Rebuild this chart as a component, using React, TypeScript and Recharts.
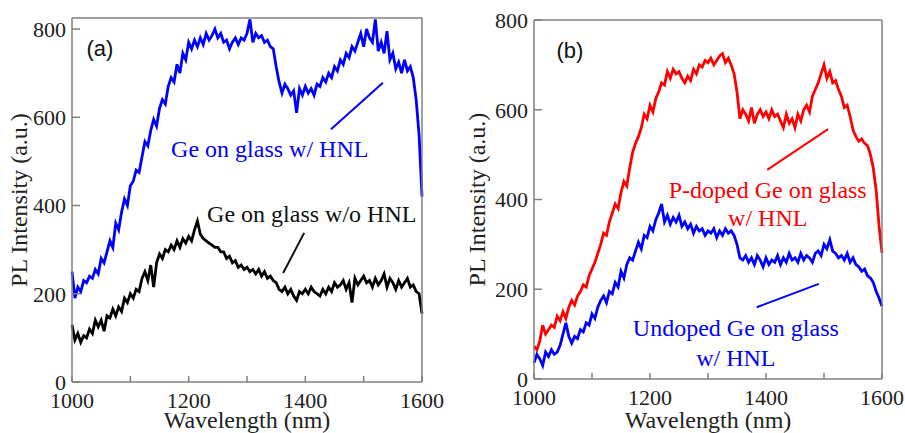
import React from "react";
import {
  LineChart,
  Line,
  XAxis,
  YAxis,
  ReferenceLine,
  ReferenceDot,
} from "recharts";

// sampling grid (nm)
const WAVELENGTH = [
  1000, 1005, 1010, 1015, 1020, 1025, 1030, 1035, 1040, 1045,
  1050, 1055, 1060, 1065, 1070, 1075, 1080, 1085, 1090, 1095,
  1100, 1105, 1110, 1115, 1120, 1125, 1130, 1135, 1140, 1145,
  1150, 1155, 1160, 1165, 1170, 1175, 1180, 1185, 1190, 1195,
  1200, 1205, 1210, 1215, 1220, 1225, 1230, 1235, 1240, 1245,
  1250, 1255, 1260, 1265, 1270, 1275, 1280, 1285, 1290, 1295,
  1300, 1305, 1310, 1315, 1320, 1325, 1330, 1335, 1340, 1345,
  1350, 1355, 1360, 1365, 1370, 1375, 1380, 1385, 1390, 1395,
  1400, 1405, 1410, 1415, 1420, 1425, 1430, 1435, 1440, 1445,
  1450, 1455, 1460, 1465, 1470, 1475, 1480, 1485, 1490, 1495,
  1500, 1505, 1510, 1515, 1520, 1525, 1530, 1535, 1540, 1545,
  1550, 1555, 1560, 1565, 1570, 1575, 1580, 1585, 1590, 1595,
  1600,
];

// (a) Ge on glass w/ HNL
const A_WITH_HNL = [
  250, 190, 215, 205, 230, 225, 240, 235, 255, 245,
  280, 270, 295, 320, 305, 360, 345, 385, 415, 400,
  445, 455, 480, 475, 510, 545, 535, 570, 595, 580,
  620, 640, 630, 670, 690, 680, 720, 700, 745, 730,
  770, 755, 775, 760, 780, 765, 790, 775, 785, 800,
  780, 790, 770, 775, 755, 770, 780, 765, 780, 775,
  790, 822, 770, 790, 780, 785, 770, 775, 760, 755,
  715, 680, 655, 675, 665, 650, 660, 610, 665, 650,
  670, 655, 665, 650, 675, 670, 690, 680, 700, 690,
  715, 705, 730, 720, 745, 735, 760, 750, 770, 790,
  760, 800, 780, 770, 822, 750, 770, 745, 795, 730,
  745, 710, 725, 700, 730, 705, 715, 690, 640, 560,
  420,
];

// (a) Ge on glass w/o HNL
const A_WITHOUT_HNL = [
  130, 95, 110, 90, 105, 100, 120, 110, 140, 125,
  140, 115, 150, 145, 165, 150, 170, 160, 190, 180,
  200, 190, 210, 205, 235, 250, 230, 265, 215, 270,
  290, 280, 300, 295, 310, 300, 320, 305, 325, 315,
  330, 320, 345, 365, 335, 325, 320, 315, 310, 305,
  305, 295, 295, 280, 285, 270, 275, 260, 265, 255,
  260, 250, 255, 245, 255, 240, 250, 235, 240, 230,
  225, 210, 205, 215, 200, 210, 195, 185, 205, 200,
  210, 200, 215, 205, 200, 195, 210, 200, 215, 205,
  225, 215, 220, 230, 210, 225, 180, 235, 220, 230,
  240, 225, 230, 215, 235, 220, 230, 245, 215, 235,
  225, 210, 230, 215, 225, 235, 215, 220, 205, 200,
  155,
];

// (b) P-doped Ge on glass w/ HNL
const B_P_DOPED = [
  73, 65, 85, 120, 100, 110, 120, 115, 140, 130,
  150, 135, 160, 175, 165, 185, 195, 210, 205, 230,
  245, 260, 280, 300, 325, 320, 350, 370, 390, 380,
  415, 440, 430, 470, 505, 525, 540, 560, 590, 580,
  610, 595, 625, 640, 660, 655, 685, 670, 690, 680,
  685, 670, 660, 675, 665, 690, 680, 700, 695, 710,
  705, 715, 700, 710, 720, 725, 705, 715, 700, 680,
  640, 580, 600, 590, 575, 605, 570, 590, 600, 585,
  595, 580, 600, 585, 590, 575, 560, 590, 570, 580,
  560, 590, 575, 600, 610, 595, 630, 645, 660, 680,
  700, 670, 685, 660, 665, 645, 630, 605, 610, 585,
  555, 540, 530, 535, 525, 520, 500, 470, 420, 340,
  281,
];

// (b) Undoped Ge on glass w/ HNL
const B_UNDOPED = [
  36, 55, 45, 30, 60, 50, 65, 55, 60, 75,
  100, 125, 95, 80, 95, 90, 110, 105, 125, 120,
  145, 135, 160, 175, 185, 170, 195, 190, 215, 205,
  240, 225, 255, 270, 265, 285, 305, 290, 320, 315,
  340, 330, 355, 370, 390, 350, 365, 345, 360, 350,
  365, 340, 350, 335, 345, 325, 340, 330, 335, 320,
  330, 325, 335, 315, 330, 320, 335, 325, 330, 320,
  300, 270, 265, 275, 260, 270, 255, 275, 265, 250,
  270, 255, 265, 260, 275, 255, 270, 260, 280, 265,
  270, 260, 280, 265, 275, 270, 260, 280, 285, 275,
  300, 290, 310, 285, 280, 270, 275, 265, 280, 260,
  270, 255, 250, 240, 245, 230, 225, 215, 195, 180,
  162,
];

const X_TICKS = [1000, 1100, 1200, 1300, 1400, 1500, 1600];
const Y_TICKS = [0, 200, 400, 600, 800];

const SERIF = "Liberation Serif";
const SANS = "Liberation Sans";
const FRAME = "#808080";
const BLUE = "#0000ff";
const RED = "#ff0000";

const dataA = WAVELENGTH.map((wl, i) => ({ wl, withHnl: A_WITH_HNL[i], withoutHnl: A_WITHOUT_HNL[i] }));
const dataB = WAVELENGTH.map((wl, i) => ({ wl, pDoped: B_P_DOPED[i], undoped: B_UNDOPED[i] }));

interface Note {
  x: number;
  y: number;
  text: string;
  color: string;
  sans?: boolean;
}
interface Pointer {
  from: [number, number];
  to: [number, number];
  color: string;
}
interface SeriesDef {
  key: string;
  color: string;
}

interface PanelProps {
  data: any[];
  series: SeriesDef[];
  yMax: number;
  width: number;
  top: number;
  leftAxis: number;
  rightAxis: number;
  bottomAxis: number;
  labelOffset: number;
  notes: Note[];
  pointers: Pointer[];
}

function Panel({ data, series, yMax, width, top, leftAxis, rightAxis, bottomAxis, labelOffset, notes, pointers }: PanelProps) {
  const tickStyle = { fill: "#222", fontSize: 22, style: { fontFamily: SERIF, fontSize: 22 } };
  return (
    <LineChart
      width={width}
      height={433}
      data={data}
      margin={{ top: top - 1, right: 0, left: 0, bottom: 0 }}
      style={{ fontFamily: SERIF }}
    >
      <XAxis
        dataKey="wl"
        type="number"
        domain={[1000, 1600]}
        ticks={X_TICKS}
        interval={0}
        tickFormatter={(v: number) => (v % 200 === 0 ? String(v) : "")}
        height={bottomAxis}
        stroke={FRAME}
        strokeWidth={1.5}
        tickSize={-6}
        tickMargin={16}
        tick={tickStyle}
        label={{
          value: "Wavelength (nm)",
          position: "insideBottom",
          offset: 5,
          fill: "#222",
          fontSize: 24,
          style: { fontFamily: SERIF, fontSize: 24 },
        }}
      />
      <XAxis
        xAxisId="top"
        orientation="top"
        dataKey="wl"
        type="number"
        domain={[1000, 1600]}
        ticks={X_TICKS}
        interval={0}
        height={1}
        stroke={FRAME}
        strokeWidth={1.5}
        tickSize={-6}
        tick={false}
      />
      <YAxis
        type="number"
        domain={[0, yMax]}
        ticks={Y_TICKS}
        interval={0}
        width={leftAxis}
        stroke={FRAME}
        strokeWidth={1.5}
        tickSize={-8}
        tickMargin={14}
        tick={tickStyle}
        label={{
          value: "PL Intensity (a.u.)",
          angle: -90,
          position: "insideLeft",
          offset: labelOffset,
          style: { textAnchor: "middle", fontFamily: SERIF, fontSize: 24 },
          fill: "#222",
          fontSize: 24,
        }}
      />
      <YAxis
        yAxisId="r"
        orientation="right"
        type="number"
        domain={[0, yMax]}
        ticks={Y_TICKS}
        interval={0}
        width={rightAxis}
        stroke={FRAME}
        strokeWidth={1.5}
        tickSize={-8}
        tick={false}
      />
      {series.map((s) => (
        <Line
          key={s.key}
          type="linear"
          dataKey={s.key}
          stroke={s.color}
          strokeWidth={2.8}
          dot={false}
          isAnimationActive={false}
        />
      ))}
      {pointers.map((p, i) => (
        <ReferenceLine
          key={"p" + i}
          segment={[
            { x: p.from[0], y: p.from[1] },
            { x: p.to[0], y: p.to[1] },
          ]}
          stroke={p.color}
          strokeWidth={2}
          ifOverflow="visible"
        />
      ))}
      {notes.map((n, i) => (
        <ReferenceDot
          key={"n" + i}
          x={n.x}
          y={n.y}
          r={0}
          stroke="none"
          fill="none"
          ifOverflow="visible"
          label={{
            value: n.text,
            position: "center",
            fill: n.color,
            fontSize: n.sans ? 22 : 24,
            style: { fontFamily: n.sans ? SANS : SERIF, fontSize: n.sans ? 22 : 24 },
          }}
        />
      ))}
    </LineChart>
  );
}

export default function App() {
  return (
    <div
      style={{
        position: "absolute",
        left: 0,
        top: 0,
        width: 905,
        height: 433,
        background: "#fff",
        fontFamily: SERIF,
      }}
    >
      <div style={{ position: "absolute", left: 0, top: 0 }}>
        <Panel
          data={dataA}
          series={[
            { key: "withHnl", color: BLUE },
            { key: "withoutHnl", color: "#000" },
          ]}
          yMax={825}
          width={450}
          top={18}
          leftAxis={72}
          rightAxis={28}
          bottomAxis={51}
          labelOffset={18}
          notes={[
            { x: 1048, y: 757, text: "(a)", color: "#111", sans: true },
            { x: 1339, y: 530, text: "Ge on glass w/ HNL", color: BLUE },
            { x: 1411, y: 383, text: "Ge on glass w/o HNL", color: "#111" },
          ]}
          pointers={[
            { from: [1444, 573], to: [1533, 678], color: BLUE },
            { from: [1398, 338], to: [1362, 247], color: "#111" },
          ]}
        />
      </div>
      <div style={{ position: "absolute", left: 450, top: 0 }}>
        <Panel
          data={dataB}
          series={[
            { key: "pDoped", color: RED },
            { key: "undoped", color: BLUE },
          ]}
          yMax={800}
          width={455}
          top={20}
          leftAxis={84}
          rightAxis={23}
          bottomAxis={54}
          labelOffset={26}
          notes={[
            { x: 1062, y: 733, text: "(b)", color: "#111", sans: true },
            { x: 1403, y: 423, text: "P-doped Ge on glass", color: RED },
            { x: 1403, y: 359, text: "w/ HNL", color: RED },
            { x: 1348, y: 114, text: "Undoped Ge on glass", color: BLUE },
            { x: 1348, y: 49, text: "w/ HNL", color: BLUE },
          ]}
          pointers={[
            { from: [1402, 466], to: [1507, 557], color: RED },
            { from: [1384, 160], to: [1491, 212], color: BLUE },
          ]}
        />
      </div>
    </div>
  );
}
